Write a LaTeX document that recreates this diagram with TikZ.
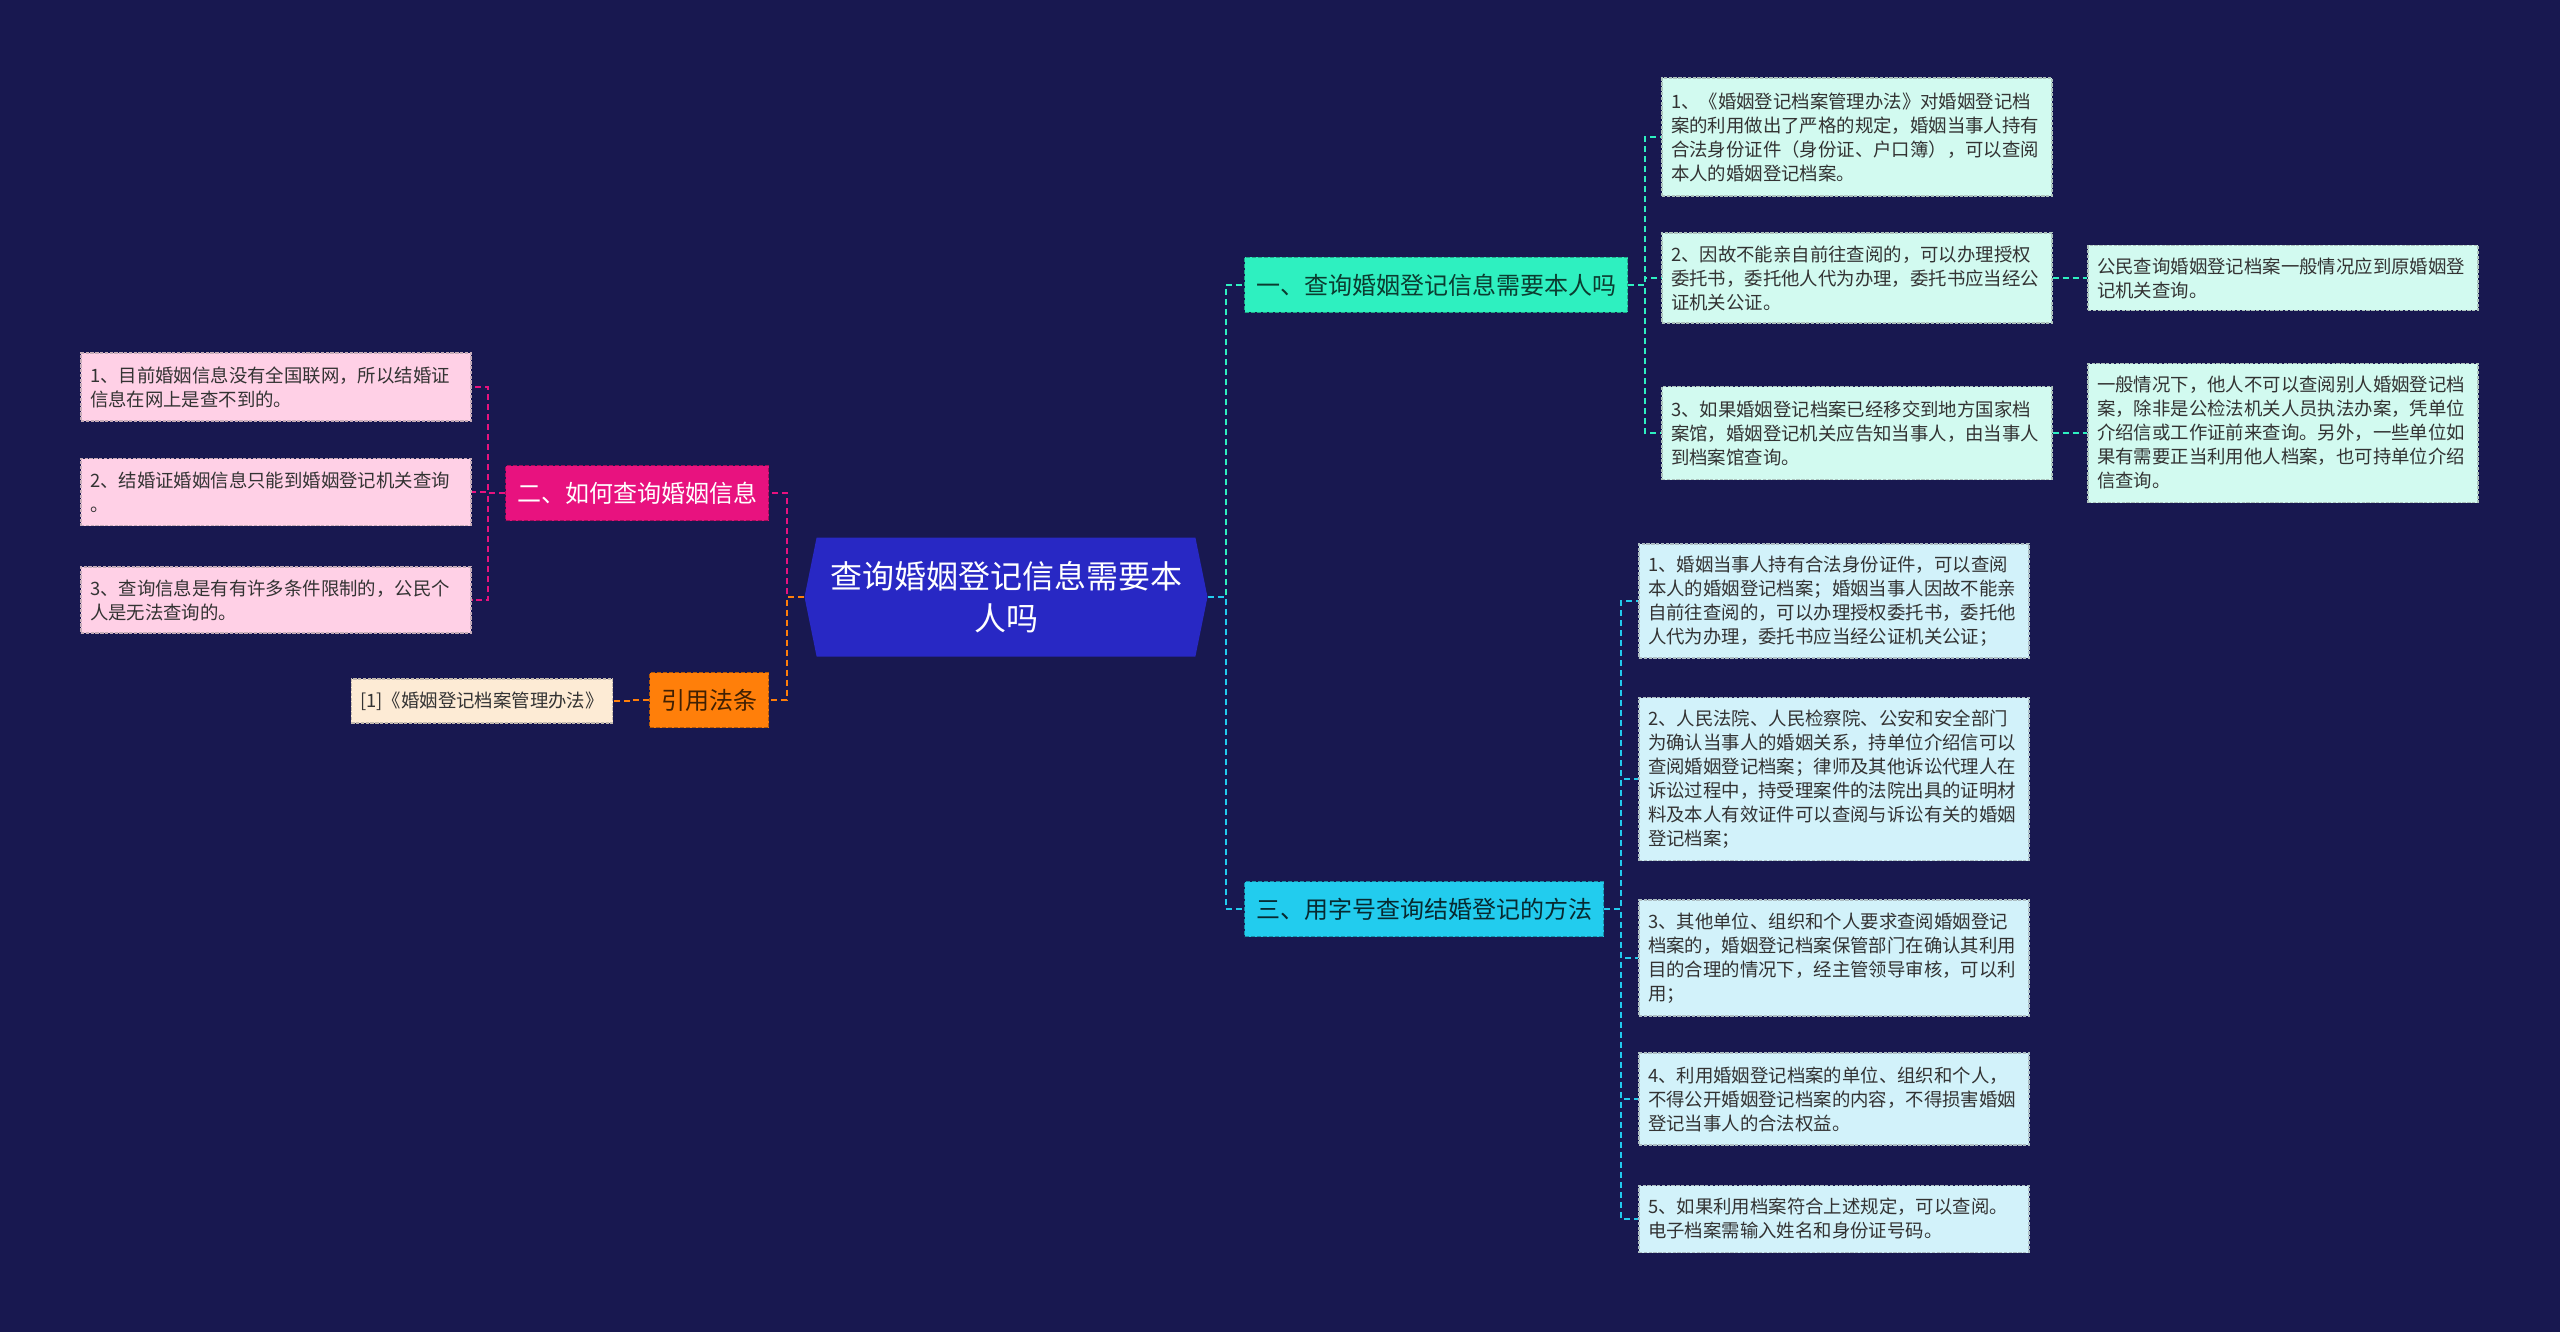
\documentclass[tikz,border=0pt]{standalone}
\usepackage{fontspec}
\setmainfont{Noto Sans CJK SC}
\usetikzlibrary{calc,shapes.symbols}
\definecolor{night}{RGB}{24,24,80}
\definecolor{royal}{RGB}{40,40,196}
\definecolor{aqua}{RGB}{46,240,192}
\definecolor{sky}{RGB}{34,204,238}
\definecolor{rose}{RGB}{232,18,127}
\definecolor{amber}{RGB}{255,127,10}
\definecolor{mintleaf}{RGB}{210,250,240}
\definecolor{skyleaf}{RGB}{210,242,250}
\definecolor{roseleaf}{RGB}{255,208,230}
\definecolor{amberleaf}{RGB}{253,235,213}
\definecolor{ink}{RGB}{51,51,51}
\tikzset{
  hub/.style={signal,signal to=east and west,signal pointer angle=157,fill=royal,text=white,minimum width=201.5pt,minimum height=59.5pt,inner sep=0pt,align=center,font=\fontsize{16}{21}\selectfont},
  topic/.style={draw=#1!70!black,fill=#1,dash pattern=on 2pt off 1pt,line width=.6pt,inner xsep=5.75pt,minimum height=27.5pt,font=\fontsize{12}{14}\selectfont},
  leaf/.style={draw=#1!55!gray,fill=#1,dash pattern=on 1.7pt off .7pt,line width=.6pt,inner xsep=4.5pt,text=ink,text width=186pt,align=left,font=\fontsize{9.2}{12}\selectfont},
  link/.style={draw=#1,line width=1pt,dash pattern=on 3pt off 2pt}
}
\newcommand\elbow[3]{\draw[link=#1] (#2) -| ($(#2)!.5!(#3)$) |- (#3);}

\begin{document}
\begin{tikzpicture}[x=.5pt,y=-.5pt]
  \fill[night] (0,0) rectangle (2560,1332);
  \useasboundingbox (0,0) rectangle (2560,1332);

  \node[hub] (root) at (1006,597) {查询婚姻登记信息需要本\\人吗};

  % branches
  \node[topic=aqua,text=aqua!25!black] (need) at (1436,285) {一、查询婚姻登记信息需要本人吗};
  \node[topic=sky,text=sky!20!black] (way) at (1424,909) {三、用字号查询结婚登记的方法};
  \node[topic=rose,text=white] (how) at (637,493) {二、如何查询婚姻信息};
  \node[topic=amber,text=amber!25!black] (law) at (709,700) {引用法条};

  % need
  \node[leaf=mintleaf,minimum height=59pt] (need1) at (1857,137) {1、《婚姻登记档案管理办法》对婚姻登记档\\案的利用做出了严格的规定，婚姻当事人持有\\合法身份证件（身份证、户口簿），可以查阅\\本人的婚姻登记档案。};
  \node[leaf=mintleaf,minimum height=45pt] (need2) at (1857,278) {2、因故不能亲自前往查阅的，可以办理授权\\委托书，委托他人代为办理，委托书应当经公\\证机关公证。};
  \node[leaf=mintleaf,minimum height=46.5pt] (need3) at (1857,433) {3、如果婚姻登记档案已经移交到地方国家档\\案馆，婚姻登记机关应告知当事人，由当事人\\到档案馆查询。};
  \node[leaf=mintleaf,minimum height=32.5pt] (need2a) at (2283,278) {公民查询婚姻登记档案一般情况应到原婚姻登\\记机关查询。};
  \node[leaf=mintleaf,minimum height=69.5pt] (need3a) at (2283,433) {一般情况下，他人不可以查阅别人婚姻登记档\\案，除非是公检法机关人员执法办案，凭单位\\介绍信或工作证前来查询。另外，一些单位如\\果有需要正当利用他人档案，也可持单位介绍\\信查询。};

  % way
  \node[leaf=skyleaf,minimum height=57pt] (way1) at (1834,601) {1、婚姻当事人持有合法身份证件，可以查阅\\本人的婚姻登记档案；婚姻当事人因故不能亲\\自前往查阅的，可以办理授权委托书，委托他\\人代为办理，委托书应当经公证机关公证；};
  \node[leaf=skyleaf,minimum height=81.5pt] (way2) at (1834,779) {2、人民法院、人民检察院、公安和安全部门\\为确认当事人的婚姻关系，持单位介绍信可以\\查阅婚姻登记档案；律师及其他诉讼代理人在\\诉讼过程中，持受理案件的法院出具的证明材\\料及本人有效证件可以查阅与诉讼有关的婚姻\\登记档案；};
  \node[leaf=skyleaf,minimum height=58pt] (way3) at (1834,958) {3、其他单位、组织和个人要求查阅婚姻登记\\档案的，婚姻登记档案保管部门在确认其利用\\目的合理的情况下，经主管领导审核，可以利\\用；};
  \node[leaf=skyleaf,minimum height=46pt] (way4) at (1834,1099) {4、利用婚姻登记档案的单位、组织和个人，\\不得公开婚姻登记档案的内容，不得损害婚姻\\登记当事人的合法权益。};
  \node[leaf=skyleaf,minimum height=33.5pt] (way5) at (1834,1219) {5、如果利用档案符合上述规定，可以查阅。\\电子档案需输入姓名和身份证号码。};

  % how
  \node[leaf=roseleaf,minimum height=34pt] (how1) at (276,387) {1、目前婚姻信息没有全国联网，所以结婚证\\信息在网上是查不到的。};
  \node[leaf=roseleaf,minimum height=33.5pt] (how2) at (276,492) {2、结婚证婚姻信息只能到婚姻登记机关查询\\。};
  \node[leaf=roseleaf,minimum height=33pt] (how3) at (276,600) {3、查询信息是有有许多条件限制的，公民个\\人是无法查询的。};

  % law
  \node[leaf=amberleaf,text width=,minimum height=22pt] (law1) at (482,701) {[1]《婚姻登记档案管理办法》};

  \elbow{rose}{root.west}{how.east}
  \elbow{amber}{root.west}{law.east}
  \elbow{aqua}{root.east}{need.west}
  \elbow{sky}{root.east}{way.west}
  \foreach \n in {need1,need2,need3}{\elbow{aqua}{need.east}{\n.west}}
  \elbow{aqua}{need2.east}{need2a.west}
  \elbow{aqua}{need3.east}{need3a.west}
  \foreach \n in {way1,way2,way3,way4,way5}{\elbow{sky}{way.east}{\n.west}}
  \foreach \n in {how1,how2,how3}{\elbow{rose}{how.west}{\n.east}}
  \elbow{amber}{law.west}{law1.east}
\end{tikzpicture}
\end{document}
